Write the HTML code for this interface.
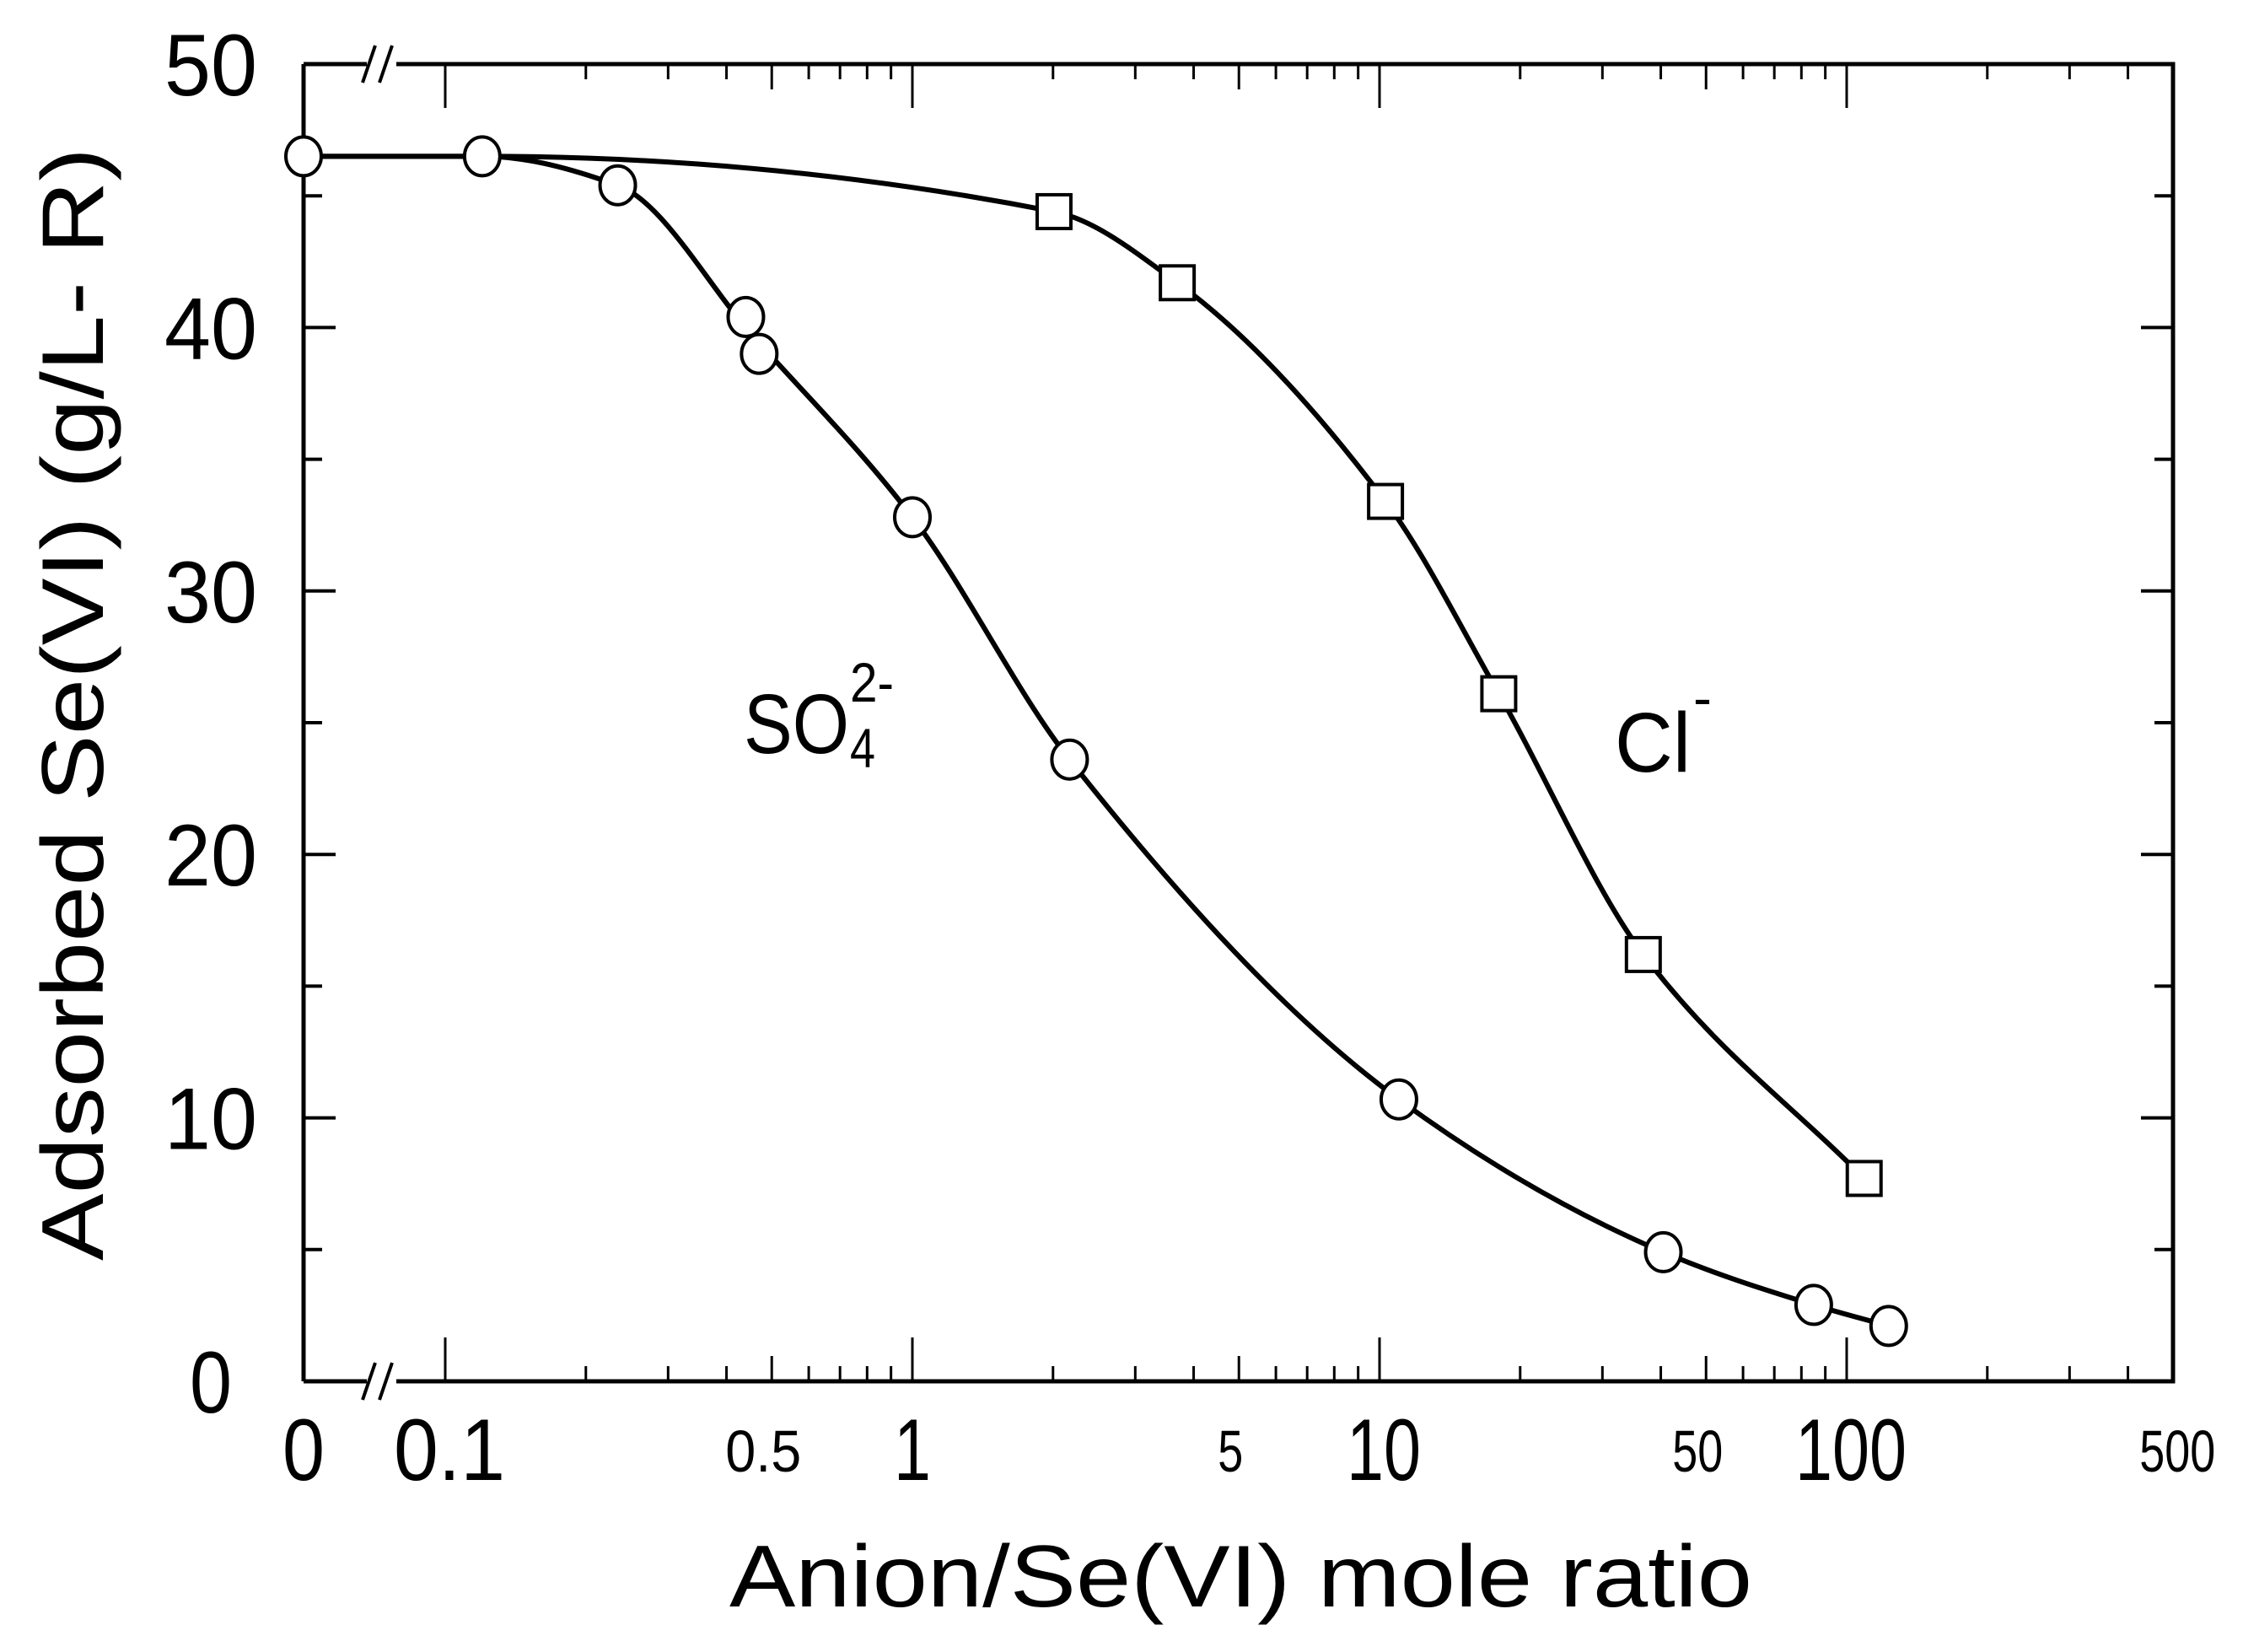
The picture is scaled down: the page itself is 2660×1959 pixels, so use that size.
<!DOCTYPE html>
<html><head><meta charset="utf-8"><style>
html,body{margin:0;padding:0;background:#fff;}
svg{display:block;font-family:"Liberation Sans",sans-serif;}
</style></head><body>
<svg id="chart" width="2660" height="1959" viewBox="0 0 2660 1959" xmlns="http://www.w3.org/2000/svg">
<g id="axes"></g>
<g id="curves"></g>
<g id="marks"></g>
<g id="labels"></g>
</svg>
<script>
const so4X = [0, 0.12, 0.234, 0.44, 0.47, 1.0, 2.17, 11, 40.5, 85, 123];
const so4Y = [46.5, 46.5, 45.4, 40.4, 39.0, 32.8, 23.6, 10.7, 4.9, 2.9, 2.1];
const clX = [2.01, 3.69, 10.3, 18, 36.7, 109];
const clY = [44.4, 41.7, 33.4, 26.1, 16.2, 7.7];
const yTicks = [0, 10, 20, 30, 40, 50];
const xBigLabels = ["0.1", "1", "10", "100"];
const xSmallLabels = ["0.5", "5", "50", "500"];

const NS = "http://www.w3.org/2000/svg";
const L = 360, R = 2577, T = 76, B = 1638;
const X1 = 1082, DEC = 554;
function xs(v){ return v <= 0 ? L : X1 + Math.log10(v) * DEC; }
function ys(v){ return B - (v / 50) * (B - T); }
function el(tag, attrs, parent){
  const e = document.createElementNS(NS, tag);
  for (const k in attrs) e.setAttribute(k, attrs[k]);
  parent.appendChild(e); return e;
}
const axes = document.getElementById('axes');
const curves = document.getElementById('curves');
const marks = document.getElementById('marks');
const labels = document.getElementById('labels');

const fr = el('path', {d:`M${L},${T} L${L},${B} M${L},${B} L435,${B} M470,${B} L${R},${B} L${R},${T} L470,${T} M435,${T} L${L},${T}`, stroke:'#000','stroke-width':5, fill:'none'}, axes);


[T, B].forEach(yy => {
  const br = el('path', {d:`M430,${yy+22} L445,${yy-22} M450,${yy+22} L465,${yy-22}`, stroke:'#000','stroke-width':4, fill:'none'}, axes);
  
  
});
for (let v = 5; v < 50; v += 5) {
  const len = v % 10 === 0 ? 38 : 22;
  const y = ys(v);
  const t1 = el('line', {x1:L, x2:L+len, y1:y, y2:y, stroke:'#000','stroke-width':4}, axes);
  
  
  const t2 = el('line', {x1:R, x2:R-len, y1:y, y2:y, stroke:'#000','stroke-width':4}, axes);
  
  
}
for (let e = -1; e <= 2; e++) {
  for (let m = 1; m <= 9; m++) {
    const v = m * Math.pow(10, e);
    const x = xs(v);
    if (x > R - 5) continue;
    const len = m === 1 ? 52 : (m === 5 ? 30 : 18);
    const t1 = el('line', {x1:x, x2:x, y1:B, y2:B-len, stroke:'#000','stroke-width':3}, axes);
    
    
    const t2 = el('line', {x1:x, x2:x, y1:T, y2:T+len, stroke:'#000','stroke-width':3}, axes);
    
    
  }
}
yTicks.forEach(v => {
  const t = el('text', {x:250, y:ys(v)+37, 'font-size':104, 'text-anchor':'middle', textLength: v===0?50:110, lengthAdjust:'spacingAndGlyphs'}, labels);
  t.textContent = v;
  
  
});
const z = el('text', {x:L, y:1755, 'font-size':104, 'text-anchor':'middle', textLength:50, lengthAdjust:'spacingAndGlyphs'}, labels);
z.textContent = "0";


xBigLabels.forEach(s => {
  const v = parseFloat(s);
  const t = el('text', {x:xs(v)+(s==="1"?0:5), y:1755, 'font-size':104, 'text-anchor':'middle', textLength: s.length*44, lengthAdjust:'spacingAndGlyphs'}, labels);
  t.textContent = s;
  
  
});
xSmallLabels.forEach(s => {
  const v = parseFloat(s);
  const t = el('text', {x:xs(v)+(s==="500"?5:-10), y:1745, 'font-size':70, 'text-anchor':'middle', textLength: s.length*30, lengthAdjust:'spacingAndGlyphs'}, labels);
  t.textContent = s;
  
  
});
const xt = el('text', {x:865, y:1905, 'font-size':104, textLength:1213, lengthAdjust:'spacingAndGlyphs'}, labels);
xt.textContent = "Anion/Se(VI)  mole  ratio";


const yt = el('text', {x:0, y:0, 'font-size':104, textLength:1320, lengthAdjust:'spacingAndGlyphs', transform:'translate(122,1495) rotate(-90)'}, labels);
yt.textContent = "Adsorbed  Se(VI)  (g/L- R)";


const sl = el('text', {x:882, y:893, 'font-size':100, textLength:125, lengthAdjust:'spacingAndGlyphs'}, labels);
sl.textContent = "SO";


const s4 = el('text', {x:1008, y:910, 'font-size':66, textLength:30, lengthAdjust:'spacingAndGlyphs'}, labels);
s4.textContent = "4";


const s2 = el('text', {x:1008, y:832, 'font-size':66, textLength:52, lengthAdjust:'spacingAndGlyphs'}, labels);
s2.textContent = "2-";


const cl = el('text', {x:1915, y:915, 'font-size':100, textLength:90, lengthAdjust:'spacingAndGlyphs'}, labels);
cl.textContent = "Cl";


const clm = el('text', {x:2008, y:850, 'font-size':66}, labels);
clm.textContent = "-";



// merge near-duplicate points (in pixel x) so the fitted curve passes between them
function mergeClose(pts){
  const out = [];
  pts.forEach(p => {
    const q = out[out.length-1];
    if (q && p[0] - q[0] < 30) { out[out.length-1] = [(q[0]+p[0])/2, (q[1]+p[1])/2]; }
    else out.push(p.slice());
  });
  return out;
}
// monotone cubic (Fritsch-Carlson) in pixel space
function smooth(pts){
  const n = pts.length, dx = [], dy = [], m = [], t = [];
  for (let i = 0; i < n-1; i++) { dx.push(pts[i+1][0]-pts[i][0]); dy.push(pts[i+1][1]-pts[i][1]); m.push(dy[i]/dx[i]); }
  t[0] = m[0]; t[n-1] = m[n-2];
  for (let i = 1; i < n-1; i++) {
    if (m[i-1]*m[i] <= 0) t[i] = 0;
    else { const w1 = 2*dx[i]+dx[i-1], w2 = dx[i]+2*dx[i-1]; t[i] = (w1+w2)/(w1/m[i-1]+w2/m[i]); }
  }
  let d = `M${pts[0][0]},${pts[0][1]}`;
  for (let i = 0; i < n-1; i++) {
    const h = dx[i]/3;
    d += ` C${pts[i][0]+h},${pts[i][1]+t[i]*h} ${pts[i+1][0]-h},${pts[i+1][1]-t[i+1]*h} ${pts[i+1][0]},${pts[i+1][1]}`;
  }
  return d;
}
const so4Pts = mergeClose(so4X.map((x,i) => [xs(x), ys(so4Y[i])]));
const clPts = [[xs(so4X[0]), ys(so4Y[0])], [xs(so4X[1]), ys(so4Y[1])]].concat(clX.map((x,i) => [xs(x), ys(clY[i])]));
const c1 = el('path', {d:smooth(so4Pts), stroke:'#000','stroke-width':6, fill:'none'}, curves);


const c2 = el('path', {d:smooth(clPts), stroke:'#000','stroke-width':6, fill:'none'}, curves);



so4X.forEach((x,i) => {
  const c = el('ellipse', {cx:xs(x), cy:ys(so4Y[i]), rx:21, ry:23, fill:'#fff', stroke:'#000','stroke-width':4}, marks);
  
  
});
clX.forEach((x,i) => {
  const s = el('rect', {x:xs(x)-20, y:ys(clY[i])-20, width:40, height:40, fill:'#fff', stroke:'#000','stroke-width':4}, marks);
  
  
});
</script>
</body></html>
